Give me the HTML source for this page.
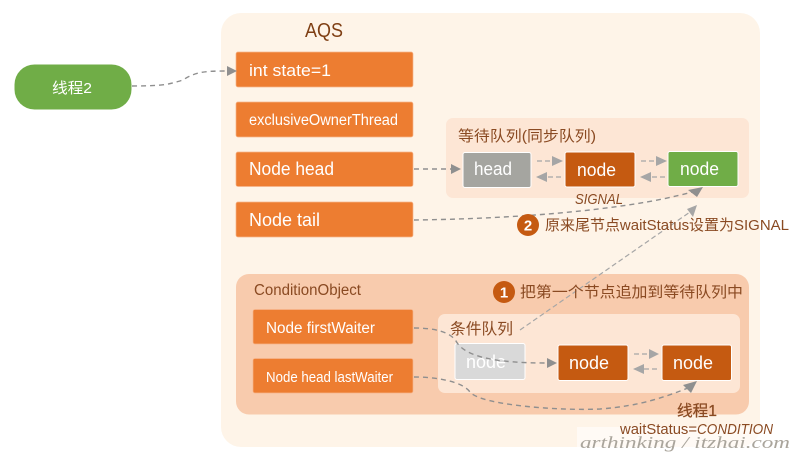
<!DOCTYPE html>
<html>
<head>
<meta charset="utf-8">
<style>
html,body{margin:0;padding:0;background:#fff;width:800px;height:462px;overflow:hidden}
svg{display:block}
text{font-family:"Liberation Sans","Noto Sans CJK SC",sans-serif}
.w{fill:#fff}
.b{fill:#8a4a22}
.o{fill:#ed7d31;stroke:#f6b48a;stroke-width:.7}
.d{fill:#c55a11;stroke:#fff;stroke-width:1}
.g{fill:#70ad47;stroke:#fff;stroke-width:1}
.l{fill:none;stroke:#8f8f8f;stroke-width:1.4;stroke-dasharray:5 4}
.s{fill:none;stroke:#a6a6a6;stroke-width:1.2;stroke-dasharray:5 3}
.a{fill:#8f8f8f}
.a2{fill:#a6a6a6}
</style>
</head>
<body>
<svg width="800" height="462" viewBox="0 0 800 462" xmlns="http://www.w3.org/2000/svg">
<rect x="221" y="13" width="539" height="434" rx="20" fill="#fef4e8"/>
<text x="305" y="37" font-size="20" fill="#7f3f14" textLength="38" lengthAdjust="spacingAndGlyphs">AQS</text>

<rect x="14.500" y="64.500" width="117" height="45" rx="20" fill="#70ad47"/>
<text x="52" y="93" font-size="15" class="w" textLength="40" lengthAdjust="spacingAndGlyphs">线程2</text>

<rect class="o" x="236" y="52" width="177" height="35" rx="2"/>
<text x="249" y="76" font-size="17" class="w" textLength="82" lengthAdjust="spacingAndGlyphs">int state=1</text>
<rect class="o" x="236" y="102" width="177" height="35" rx="2"/>
<text x="249" y="125" font-size="15.500" class="w" textLength="149" lengthAdjust="spacingAndGlyphs">exclusiveOwnerThread</text>
<rect class="o" x="236" y="152" width="177" height="34.500" rx="2"/>
<text x="249" y="175" font-size="18" class="w" textLength="85" lengthAdjust="spacingAndGlyphs">Node head</text>
<rect class="o" x="236" y="202" width="177" height="35" rx="2"/>
<text x="249" y="226" font-size="18" class="w" textLength="71" lengthAdjust="spacingAndGlyphs">Node tail</text>

<!-- waiting queue -->
<rect x="446" y="118" width="303" height="80" rx="7" fill="#fde6d5"/>
<text x="458" y="141" font-size="15" class="b" textLength="138" lengthAdjust="spacingAndGlyphs">等待队列(同步队列)</text>
<rect x="463" y="152.500" width="68" height="35" rx="2" fill="#a5a5a0" stroke="#fff" stroke-width="1"/>
<text x="474" y="175" font-size="18" class="w" textLength="38" lengthAdjust="spacingAndGlyphs">head</text>
<rect class="d" x="565" y="152" width="70" height="35" rx="2"/>
<text x="577" y="176" font-size="18" class="w" textLength="39" lengthAdjust="spacingAndGlyphs">node</text>
<rect class="g" x="668" y="151.500" width="70" height="35" rx="2"/>
<text x="680" y="175" font-size="18" class="w" textLength="39" lengthAdjust="spacingAndGlyphs">node</text>
<text x="575" y="204" font-size="15" font-style="italic" class="b" textLength="48" lengthAdjust="spacingAndGlyphs">SIGNAL</text>

<path class="s" d="M537 161H553"/><path class="a2" d="M552 156l11 5-11 5z"/>
<path class="s" d="M561 177H545"/><path class="a2" d="M547 172l-11 5 11 5z"/>
<path class="s" d="M641 161H657"/><path class="a2" d="M656 156l11 5-11 5z"/>
<path class="s" d="M665 177H650"/><path class="a2" d="M651 172l-11 5 11 5z"/>

<!-- condition object -->
<rect x="236" y="274" width="513" height="140.500" rx="13" fill="#f8cbad"/>
<text x="254" y="295" font-size="15.500" class="b" textLength="107" lengthAdjust="spacingAndGlyphs">ConditionObject</text>
<rect class="o" x="253" y="309.500" width="160" height="34.500" rx="2"/>
<text x="266" y="333" font-size="15.500" class="w" textLength="109" lengthAdjust="spacingAndGlyphs">Node firstWaiter</text>
<rect class="o" x="253" y="358.500" width="160" height="34.500" rx="2"/>
<text x="266" y="382" font-size="14.500" class="w" textLength="127" lengthAdjust="spacingAndGlyphs">Node head lastWaiter</text>

<rect x="438" y="314" width="302" height="79" rx="7" fill="#fde6d5"/>
<text x="450" y="334" font-size="15.500" class="b" textLength="63" lengthAdjust="spacingAndGlyphs">条件队列</text>
<rect x="455" y="343.500" width="70" height="36" rx="2" fill="#d9d9d9" stroke="#fff" stroke-width="1"/>
<text x="466" y="368" font-size="18" class="w" textLength="40" lengthAdjust="spacingAndGlyphs">node</text>
<rect class="d" x="558" y="345" width="70" height="35.500" rx="2"/>
<text x="569" y="369" font-size="18" class="w" textLength="40" lengthAdjust="spacingAndGlyphs">node</text>
<rect class="d" x="662" y="345" width="69.500" height="35.500" rx="2"/>
<text x="673" y="369" font-size="18" class="w" textLength="40" lengthAdjust="spacingAndGlyphs">node</text>

<path class="s" d="M634 354H650"/><path class="a2" d="M649 349l10 5-10 5z"/>
<path class="s" d="M657 369H643"/><path class="a2" d="M644 364l-11 5 11 5z"/>

<!-- connectors -->
<path class="l" d="M132 86C165 86 170 84 183 80C195 72 205 71 225 71"/>
<path class="a" d="M227 66l10 5-10 5z"/>
<path class="l" d="M414 169H452"/>
<path class="a" d="M451 164l10 5-10 5z"/>
<path class="l" d="M414 220C500 219 620 212 692 192"/>
<path class="a" d="M703 187l-15 3 9 7z"/>
<path class="s" d="M520 330L690 212"/>
<path class="a2" d="M697 205l-10 4 6 8z"/>
<path class="l" d="M414 328C435 328 450 332 456 341C465 358 500 363 547 363"/>
<path class="a" d="M547 358l10 5-10 5z"/>
<path class="l" d="M414 377C435 377 462 381 470 392C480 405 560 411 600 409C640 406 665 397 688 388"/>
<path class="a" d="M697 381l-14 4 8 8z"/>

<!-- badges -->
<circle cx="528" cy="225" r="11" fill="#c55a11"/>
<text x="528" y="230.500" font-size="15" font-weight="bold" class="w" text-anchor="middle">2</text>
<text x="545" y="230" font-size="15" class="b" textLength="244" lengthAdjust="spacingAndGlyphs">原来尾节点waitStatus设置为SIGNAL</text>
<circle cx="504" cy="292" r="11" fill="#c55a11"/>
<text x="504" y="297.500" font-size="15" font-weight="bold" class="w" text-anchor="middle">1</text>
<text x="520" y="297" font-size="15" class="b" textLength="223" lengthAdjust="spacingAndGlyphs">把第一个节点追加到等待队列中</text>

<!-- watermark band -->
<rect x="577" y="427" width="223" height="35" fill="#fff" opacity=".55"/>
<text x="677" y="416" font-size="15.500" fill="#8a4a22" stroke="#8a4a22" stroke-width=".25" textLength="40" lengthAdjust="spacingAndGlyphs">线程1</text>
<text x="620" y="434" font-size="15" fill="#8a4a22" textLength="77" lengthAdjust="spacingAndGlyphs">waitStatus=</text>
<text x="697" y="434" font-size="15" font-style="italic" fill="#8a4a22" textLength="76" lengthAdjust="spacingAndGlyphs">CONDITION</text>
<text x="580" y="448" font-size="17" font-style="italic" fill="#aaa59c" style="font-family:'Liberation Serif',serif" textLength="210" lengthAdjust="spacingAndGlyphs">arthinking / itzhai.com</text>
</svg>
</body>
</html>
